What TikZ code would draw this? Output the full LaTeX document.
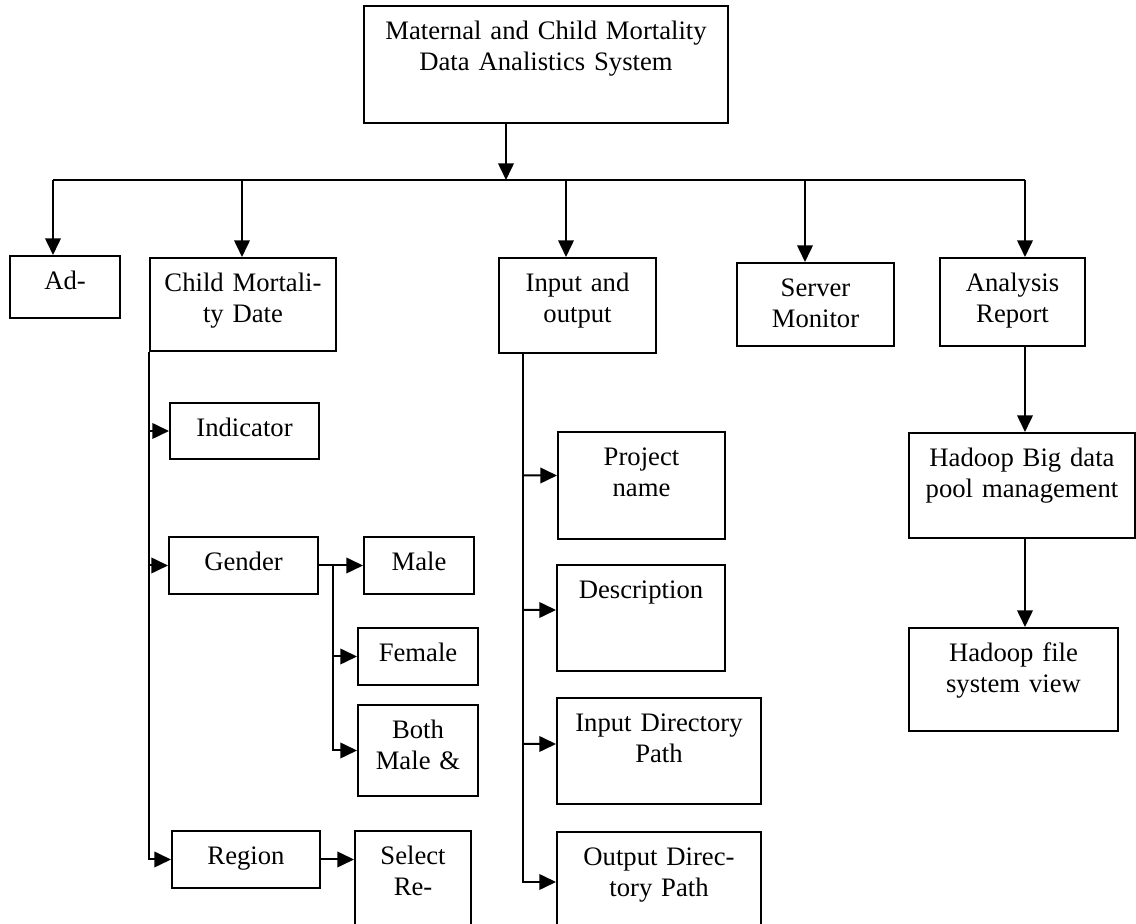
\documentclass[tikz,border=0pt]{standalone}
\usepackage{fontspec}
\setmainfont{Liberation Serif}
\usetikzlibrary{arrows.meta, calc, positioning}

\tikzset{
    blk/.style={draw, line width=0.9pt, rectangle, anchor=north west, inner sep=0pt, align=center, text height=15.3pt, font=\fontsize{12}{13.8}\selectfont},
    arr/.style={line width=0.9pt, -{Triangle[length=7.5pt, width=7pt]}},
    link/.style={line width=0.9pt},
}

\begin{document}
\begin{tikzpicture}[x=0.45pt, y=-0.45pt]
        \useasboundingbox (0,0) rectangle (1136,924);

        \node[blk, text width=163.8pt, text depth=37.35pt] (main) at (363, 5) {Maternal and Child Mortality\\Data Analistics System};

        \node[blk, text width=49.5pt, text depth=12.6pt] (ad) at (9, 255) {Ad-};
        \node[blk, text width=83.7pt, text depth=26.55pt] (child) at (149, 257) {Child Mortali-\\ty Date};
        \node[blk, text width=70.65pt, text depth=27.45pt] (inout) at (498, 257) {Input and\\output};
        \node[blk, text width=70.65pt, text depth=22.05pt] (server) at (736, 262) {Server\\Monitor};
        \node[blk, text width=65.25pt, text depth=24.3pt] (analysis) at (939, 257) {Analysis\\Report};

        \node[blk, text width=67.05pt, text depth=9.9pt] (indicator) at (169, 402) {Indicator};
        \node[blk, text width=67.05pt, text depth=10.35pt] (gender) at (168, 536) {Gender};
        \node[blk, text width=49.5pt, text depth=10.35pt] (male) at (363, 536) {Male};
        \node[blk, text width=54pt, text depth=10.35pt] (female) at (357, 627) {Female};
        \node[blk, text width=54pt, text depth=25.65pt] (both) at (357, 704) {Both\\Male \&};
        \node[blk, text width=66.6pt, text depth=10.35pt] (region) at (171, 830) {Region};
        \node[blk, text width=52.2pt, text depth=29.7pt] (select) at (354, 830) {Select\\Re-};

        \node[blk, text width=75.15pt, text depth=32.85pt] (project) at (557, 431) {Project\\name};
        \node[blk, text width=75.6pt, text depth=32.4pt] (desc) at (556, 564) {Description};
        \node[blk, text width=91.8pt, text depth=32.4pt] (indir) at (556, 697) {Input Directory\\Path};
        \node[blk, text width=91.8pt, text depth=29.7pt] (outdir) at (556, 831) {Output Direc-\\tory Path};

        \node[blk, text width=101.7pt, text depth=31.95pt] (hbig) at (908, 432) {Hadoop Big data\\pool management};
        \node[blk, text width=94.05pt, text depth=31.05pt] (hfile) at (908, 627) {Hadoop file\\system view};

        \coordinate (b0) at (506, 180);
        \coordinate (b1) at (53, 180);
        \coordinate (b2) at (242, 180);
        \coordinate (b3) at (566, 180);
        \coordinate (b4) at (805, 180);
        \coordinate (b5) at (1025, 180);
        \coordinate (gx) at (333, 564);
        \coordinate (io) at (523, 352);

        \draw [arr] (main.south -| b0) -- (b0);
        \draw [link] (b1) -- (b5);
        \draw [arr] (b1) -- (b1 |- ad.north);
        \draw [arr] (b2) -- (b2 |- child.north);
        \draw [arr] (b3) -- (b3 |- inout.north);
        \draw [arr] (b4) -- (b4 |- server.north);
        \draw [arr] (b5) -- (b5 |- analysis.north);

        \draw [arr] (child.south west) |- (region.west);
        \draw [arr] (child.south west |- indicator.west) -- (indicator.west);
        \draw [arr] (child.south west |- gender.west) -- (gender.west);
        \draw [arr] (gender.east) -- (male.west);
        \draw [arr] (gx) |- (both.west);
        \draw [arr] (gx |- female.west) -- (female.west);
        \draw [arr] (region.east) -- (region.east -| select.west);

        \draw [arr] (io) |- (outdir.west);
        \draw [arr] (io |- project.west) ++(0, -10) -- ([yshift=4.5pt]project.west);
        \draw [arr] (io |- desc.west) ++(0, -8) -- ([yshift=3.6pt]desc.west);
        \draw [arr] (io |- indir.west) ++(0, -7) -- ([yshift=3.15pt]indir.west);

        \draw [arr] (analysis.south -| b5) -- (hbig.north -| b5);
        \draw [arr] (hbig.south -| b5) -- (hfile.north -| b5);

    \end{tikzpicture}
\end{document}
